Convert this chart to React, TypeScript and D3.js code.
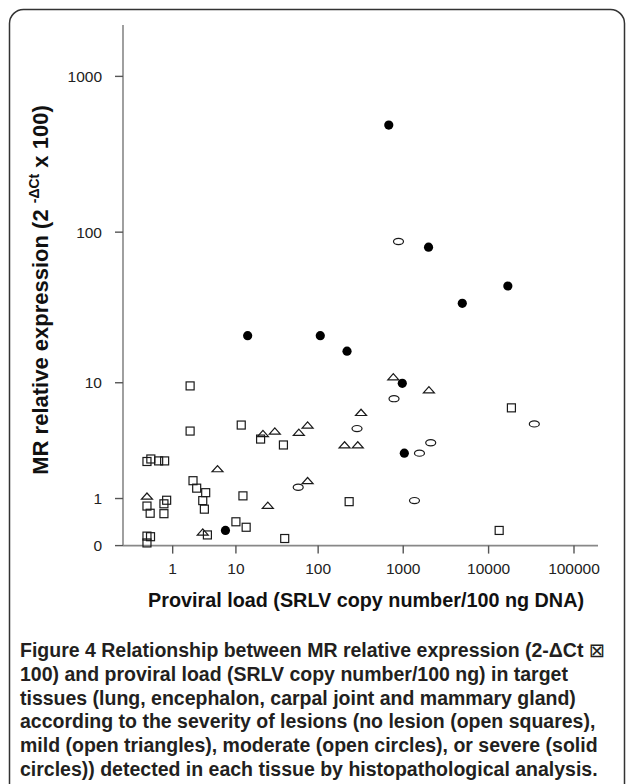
import React from 'react';
import * as d3 from 'd3';

// [proviral load (SRLV copies/100 ng DNA), MR relative expression (2^-ΔCt x 100)]
const noLesion: [number, number][] = [
  [2.2, 9.5], [18500, 6.6], [11.7, 4.9], [2.2, 4.4], [20.4, 3.8], [38.6, 3.4],
  [0, 2.45], [0.11, 2.58], [0.37, 2.48], [0.61, 2.48], [2.46, 1.6], [2.82, 1.33],
  [3.87, 1.18], [3.5, 0.94], [3.7, 0.71], [12.3, 1.08], [0, 0.79], [0.09, 0.61],
  [0.58, 0.6], [0.58, 0.85], [0.7, 0.95], [232, 0.91], [0, 0.15], [0.1, 0.14],
  [0, 0.04], [4.1, 0.17], [10, 0.42], [13.5, 0.31], [40, 0.11], [13300, 0.25],
];
const mild: [number, number][] = [
  [765, 11.0], [2000, 8.9], [320, 6.1], [75, 4.9], [59, 4.3], [21.8, 4.2],
  [30.4, 4.4], [205, 3.4], [293, 3.4], [5.7, 2.1], [75, 1.6], [0, 1.07],
  [25, 0.81], [3.5, 0.22],
];
const moderate: [number, number][] = [
  [880, 87], [780, 7.7], [287, 4.6], [34300, 5.0], [2100, 3.55], [1550, 2.9],
  [58, 1.36], [1355, 0.94],
];
const severe: [number, number][] = [
  [677, 488], [1980, 80], [16800, 44.7], [4920, 34.4], [14.1, 21], [106, 21],
  [219, 16.5], [975, 9.9], [1030, 2.9], [7.3, 0.25],
];

const xTicks = [1, 10, 100, 1000, 10000, 100000];
const yTicks = [0, 1, 10, 100, 1000];

const captionLines = [
  ['Figure 4', ' Relationship between MR relative expression (2-ΔCt ', '⊠'],
  ['', '100) and proviral load (SRLV copy number/100 ng) in target', ''],
  ['', 'tissues (lung, encephalon, carpal joint and mammary gland)', ''],
  ['', 'according to the severity of lesions (no lesion (open squares),', ''],
  ['', 'mild (open triangles), moderate (open circles), or severe (solid', ''],
  ['', 'circles)) detected in each tissue by histopathological analysis.', ''],
];

export default function App() {
  const x = d3.scaleLog().domain([0.524, 191000]).range([123, 598]);
  const y = d3.scaleLog().domain([1, 2133]).range([545.6, 25]);
  const px = (v: number) => x(v + 1);
  const py = (v: number) => y(v + 1);
  const x0 = x.range()[0], x1 = x.range()[1];
  const yBase = y.range()[0], yTop = y.range()[1];
  const stroke = '#1a1a1a';
  const arial = 'Arial, "Liberation Sans", sans-serif';
  const tickFont = { fontFamily: arial, fontSize: 15.5, fill: '#222' };
  const triPath = 'M-5.5,3 L5.5,3 L0,-3.2 Z';

  return (
    <svg width={627} height={784} style={{ position: 'absolute', left: 0, top: 0, background: '#fff' }}>
      <rect x={9.5} y={9.5} width={615} height={800} rx={14} fill="none" stroke="#333" strokeWidth={1.5} />

      {/* axes */}
      <line x1={x0} x2={x0} y1={yTop} y2={yBase} stroke="#888" strokeWidth={1.6} />
      <line x1={x0} x2={x1} y1={yBase} y2={yBase} stroke="#888" strokeWidth={1.6} />
      {yTicks.map((t) => (
        <g key={'y' + t}>
          <line x1={x0 - 8} x2={x0} y1={py(t)} y2={py(t)} stroke="#555" strokeWidth={1.4} />
          <text x={x0 - 21} y={py(t) + 5.5} textAnchor="end" {...tickFont}>{t}</text>
        </g>
      ))}
      {xTicks.map((t) => (
        <g key={'x' + t}>
          <line x1={px(t)} x2={px(t)} y1={yBase} y2={yBase + 8} stroke="#555" strokeWidth={1.4} />
          <text x={px(t)} y={yBase + 28} textAnchor="middle" {...tickFont}>{t}</text>
        </g>
      ))}

      {/* axis titles */}
      <text x={366} y={607} textAnchor="middle" fontFamily={arial}
        fontWeight="bold" fontSize={19.8} fill="#111">Proviral load (SRLV copy number/100 ng DNA)</text>
      <text transform="translate(48,290) rotate(-90)" textAnchor="middle"
        fontFamily={arial} fontWeight="bold" fontSize={22} fill="#111">
        MR relative expression (2 <tspan fontSize={14} dy={-9}>-ΔCt</tspan><tspan dy={9}> x 100)</tspan>
      </text>

      {/* marks */}
      {noLesion.map(([a, b], i) => (
        <rect key={'s' + i} x={px(a) - 4} y={py(b) - 4} width={8} height={8} fill="none" stroke={stroke} strokeWidth={1.2} />
      ))}
      {mild.map(([a, b], i) => (
        <path key={'t' + i} d={triPath} transform={`translate(${px(a)},${py(b)})`} fill="none" stroke={stroke} strokeWidth={1.2} />
      ))}
      {moderate.map(([a, b], i) => (
        <ellipse key={'o' + i} cx={px(a)} cy={py(b)} rx={5} ry={3.1} fill="none" stroke={stroke} strokeWidth={1.2} />
      ))}
      {severe.map(([a, b], i) => (
        <circle key={'f' + i} cx={px(a)} cy={py(b)} r={4.6} fill="#000" />
      ))}

      {/* caption */}
      {captionLines.map(([b, r, s], i) => (
        <text key={'c' + i} x={20} y={657 + i * 23.8} fontFamily='"Liberation Sans", Arial, sans-serif'
          fontSize={19.5} fontWeight={700} fill="#231f20">
          {b && <tspan>{b}</tspan>}
          {r}
          {s && <tspan fontFamily='"DejaVu Sans", sans-serif' fontWeight={400}>{s}</tspan>}
        </text>
      ))}
    </svg>
  );
}
